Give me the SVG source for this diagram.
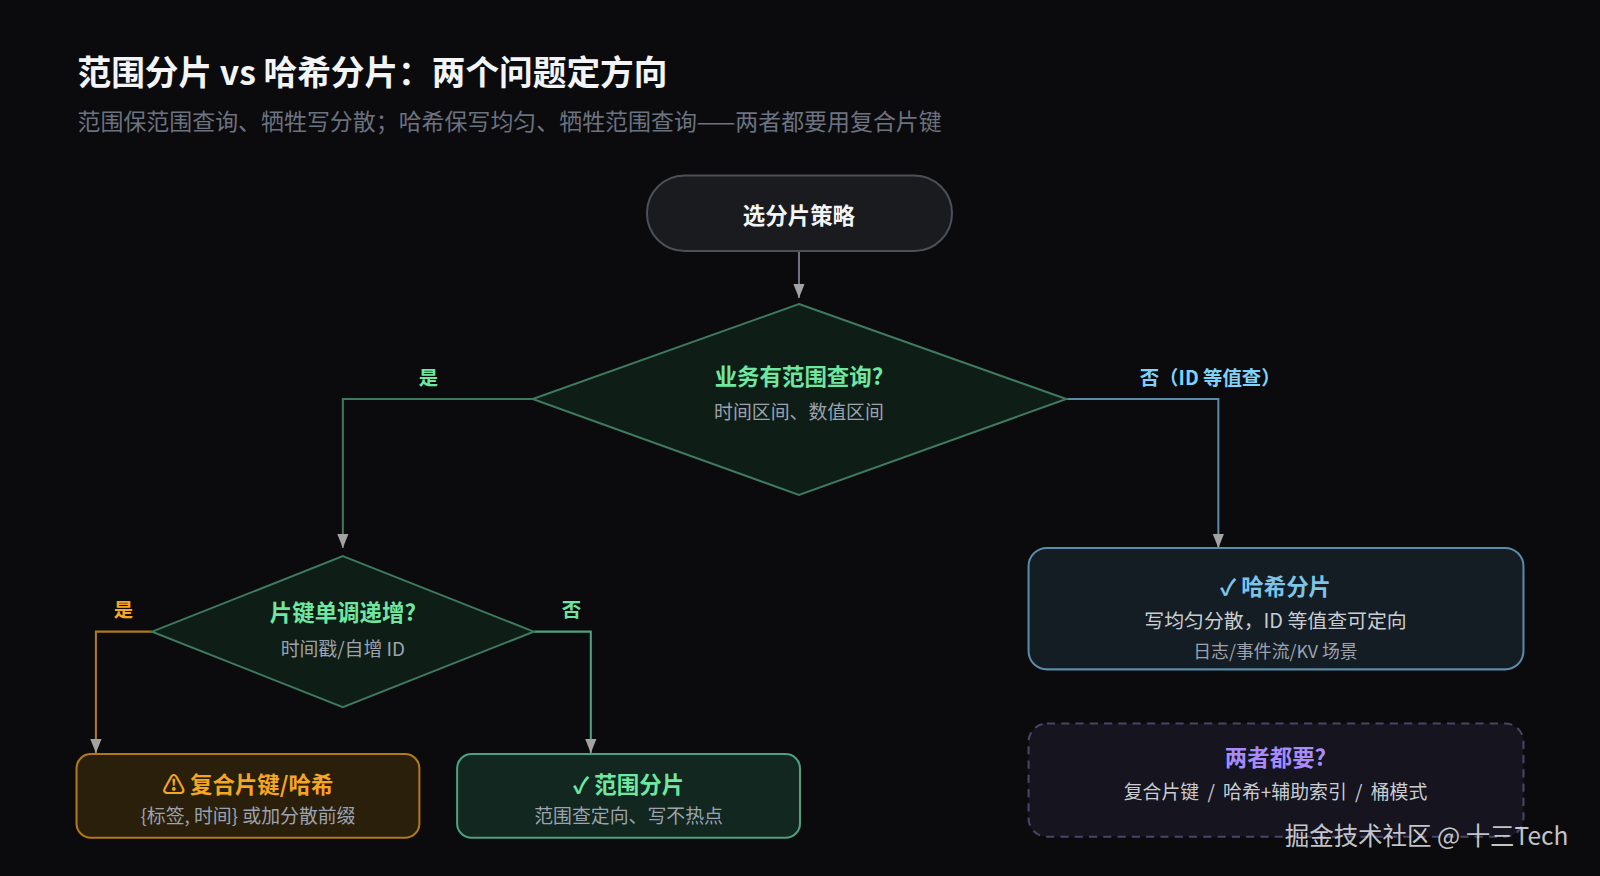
<svg xmlns="http://www.w3.org/2000/svg" width="1600" height="876" viewBox="0 0 1600 876">
<defs>
<style>
text{font-family:"Noto Sans CJK SC","Noto Sans",sans-serif;text-anchor:middle}
.t{font-weight:bold;font-size:22px}
.s{font-size:18.5px;fill:#9ca3af}
.ln{fill:none;stroke-width:2}
</style>
<marker id="a" viewBox="0 0 10 10" refX="10" refY="5" markerWidth="14" markerHeight="14" orient="auto" markerUnits="userSpaceOnUse"><path d="M0,1L10,5L0,9z" fill="#a3a3a3"/></marker>
</defs>
<rect width="1600" height="876" fill="#0b0b0d"/>
<g transform="scale(1.0204)">
<text x="76" y="83" style="text-anchor:start;font-size:33px;font-weight:bold" fill="#f3f4f6">范围分片 vs 哈希分片：两个问题定方向</text>
<text x="76" y="127" style="text-anchor:start;font-size:22.5px" fill="#6b7280">范围保范围查询、牺牲写分散；哈希保写均匀、牺牲范围查询——两者都要用复合片键</text>
<g id="connectors">
<path class="ln" d="M783,246V292" stroke="#6b7280" marker-end="url(#a)"/>
<path class="ln" d="M522,391H336V537" stroke="#3d7a5e" marker-end="url(#a)"/>
<path class="ln" d="M1045,391H1194V537" stroke="#5b8ba6" marker-end="url(#a)"/>
<path class="ln" d="M149,619H94V738" stroke="#b07a1a" marker-end="url(#a)"/>
<path class="ln" d="M523,619H579V738" stroke="#4fa07f" marker-end="url(#a)"/>
<text x="420" y="377" style="font-size:19px;font-weight:bold" fill="#6ee7a0">是</text>
<text x="1186" y="377" style="font-size:19px;font-weight:bold" fill="#7dd3fc">否（ID 等值查）</text>
<text x="121" y="605" style="font-size:19px;font-weight:bold" fill="#f5a623">是</text>
<text x="560" y="605" style="font-size:19px;font-weight:bold" fill="#6ee7a0">否</text>
</g>
<g id="start">
<rect x="634" y="172" width="299" height="74" rx="37" fill="#1a1b1e" stroke="#4b5058" stroke-width="2"/>
<text class="t" x="783" y="220" fill="#f3f4f6">选分片策略</text>
</g>
<g id="d1">
<polygon points="783,298 1045,391 783,485 522,391" fill="#0f1d17" stroke="#3d7a5e" stroke-width="2"/>
<text class="t" x="783" y="377" fill="#6ee7a0">业务有范围查询?</text>
<text class="s" x="783" y="411">时间区间、数值区间</text>
</g>
<g id="d2">
<polygon points="336,545 523,619 336,693 149,619" fill="#0f1d17" stroke="#3d7a5e" stroke-width="2"/>
<text class="t" x="336" y="609" fill="#6ee7a0">片键单调递增?</text>
<text class="s" x="336" y="643">时间戳/自增 ID</text>
</g>
<g id="composite">
<rect x="75" y="739" width="336" height="82" rx="14" fill="#2a1f0a" stroke="#b07a1a" stroke-width="2"/>
<text class="t" x="243" y="777" fill="#f5a623">⚠ 复合片键/哈希</text>
<text class="s" x="243" y="807">{标签, 时间} 或加分散前缀</text>
</g>
<g id="range">
<rect x="448" y="739" width="336" height="82" rx="14" fill="#11271f" stroke="#4fa07f" stroke-width="2"/>
<text class="t" x="616" y="777" fill="#6ee7a0">✓ 范围分片</text>
<text class="s" x="616" y="807">范围查定向、写不热点</text>
</g>
<g id="hash">
<rect x="1008" y="537" width="485" height="119" rx="18" fill="#141d24" stroke="#5b8ba6" stroke-width="2"/>
<text class="t" x="1250" y="583" fill="#7cc4e8">✓ 哈希分片</text>
<text x="1250" y="615" style="font-size:19.5px" fill="#c9cdd2">写均匀分散，ID 等值查可定向</text>
<text x="1250" y="645" style="font-size:17.5px" fill="#9ca3af">日志/事件流/KV 场景</text>
</g>
<g id="both">
<rect x="1008" y="709" width="485" height="111" rx="18" fill="#15141f" stroke="#4a4566" stroke-width="2" stroke-dasharray="8 6"/>
<text class="t" x="1250" y="751" fill="#a78bfa">两者都要?</text>
<text x="1250" y="783" style="font-size:18.5px;word-spacing:4px" fill="#c9cdd2">复合片键 / 哈希+辅助索引 / 桶模式</text>
</g>
<text x="1398" y="828" style="font-size:24px" fill="#e5e7eb" fill-opacity="0.85">掘金技术社区 @ 十三Tech</text>
</g>
</svg>
